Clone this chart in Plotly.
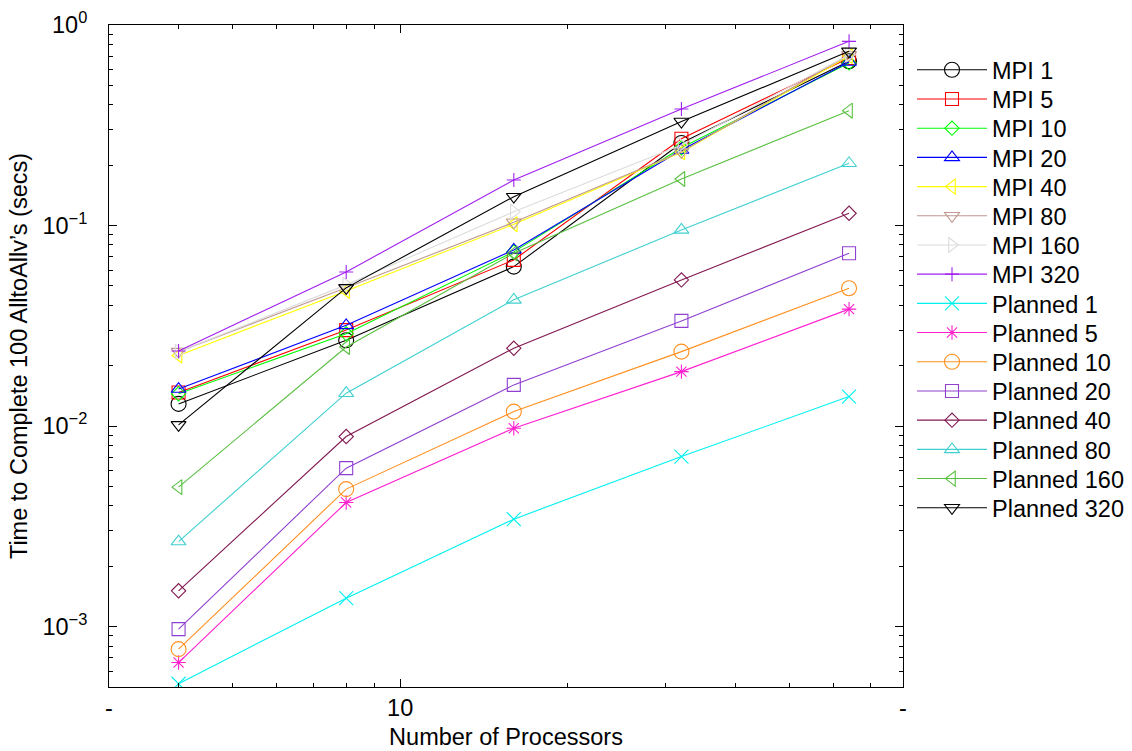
import plotly.graph_objects as go

procs = [4, 8, 16, 32, 64]

series_names = ["MPI 1", "MPI 5", "MPI 10", "MPI 20", "MPI 40", "MPI 80", "MPI 160", "MPI 320",
                "Planned 1", "Planned 5", "Planned 10", "Planned 20", "Planned 40", "Planned 80",
                "Planned 160", "Planned 320"]

mpi_1 = [0.0129, 0.0268, 0.0624, 0.258, 0.660]
mpi_5 = [0.0147, 0.0301, 0.0674, 0.271, 0.685]
mpi_10 = [0.0145, 0.0289, 0.0739, 0.244, 0.647]
mpi_20 = [0.0153, 0.0318, 0.0756, 0.238, 0.654]
mpi_40 = [0.0225, 0.0472, 0.1015, 0.232, 0.700]
mpi_80 = [0.0235, 0.0489, 0.1038, 0.233, 0.710]
mpi_160 = [0.0235, 0.0506, 0.1173, 0.252, 0.710]
mpi_320 = [0.0237, 0.0587, 0.1688, 0.381, 0.829]
planned_1 = [0.000519, 0.001387, 0.003435, 0.00705, 0.01403]
planned_5 = [0.000662, 0.00416, 0.00976, 0.01869, 0.0383]
planned_10 = [0.000772, 0.00485, 0.01181, 0.02351, 0.0487]
planned_20 = [0.000972, 0.00617, 0.01605, 0.03345, 0.0728]
planned_40 = [0.001509, 0.00887, 0.02445, 0.05356, 0.1151]
planned_80 = [0.002656, 0.01459, 0.0426, 0.0951, 0.2044]
planned_160 = [0.00496, 0.0248, 0.0728, 0.1707, 0.3739]
planned_320 = [0.01014, 0.0489, 0.1393, 0.330, 0.739]

series_values = [mpi_1, mpi_5, mpi_10, mpi_20, mpi_40, mpi_80, mpi_160, mpi_320,
                 planned_1, planned_5, planned_10, planned_20, planned_40, planned_80,
                 planned_160, planned_320]

colors = ["#000000", "#ff0000", "#00ff00", "#0000ff", "#ffff00", "#c09890", "#dcdcdc", "#a020f0",
          "#00f0f0", "#ff20d0", "#ff9020", "#9040d0", "#801850", "#40d0d0", "#58c040", "#000000"]
symbols = ["circle-open", "square-open", "diamond-open", "triangle-up-open", "triangle-left-open",
           "triangle-down-open", "triangle-right-open", "cross-thin-open",
           "x-thin-open", "asterisk-open", "circle-open", "square-open", "diamond-open",
           "triangle-up-open", "triangle-left-open", "triangle-down-open"]
size_by_symbol = {"circle-open": 15, "square-open": 13, "diamond-open": 11, "triangle-up-open": 13,
                  "triangle-left-open": 13, "triangle-down-open": 13, "triangle-right-open": 13,
                  "cross-thin-open": 10, "x-thin-open": 14, "asterisk-open": 12}

font_family = "Liberation Sans, Arial, sans-serif"
FS = 23.5
W, H = 1132, 751

legend_left_px = 912
legend_first_y, legend_step = 70, 29.2

fig = go.Figure()
legend_layouts = {}
for i, (name, vals, col, sym) in enumerate(zip(series_names, series_values, colors, symbols)):
    lg = "legend" if i == 0 else f"legend{i + 1}"
    fig.add_trace(go.Scatter(
        x=procs, y=vals, name=name, mode="lines+markers",
        line=dict(color=col, width=1.1),
        marker=dict(symbol=sym, size=size_by_symbol[sym], color=col,
                    line=dict(color=col, width=1.1)),
        legend=lg,
    ))
    yc = legend_first_y + legend_step * i
    legend_layouts[lg] = dict(
        xref="container", yref="container",
        x=legend_left_px / W, y=1 - yc / H, xanchor="left", yanchor="middle",
        font=dict(size=FS, color="black", family=font_family), itemwidth=70,
        bgcolor="rgba(0,0,0,0)",
    )

x_tickvals = [3, 10, 80]
x_ticktext = ["-", "10", "-"]
x_minor = [4, 5, 6, 7, 8, 9, 20, 30, 40, 50, 60, 70]
y_tickvals = [1e-3, 1e-2, 1e-1, 1]
y_ticktext = ["10<sup>\u22123</sup>", "10<sup>\u22122</sup>", "10<sup>\u22121</sup>", "10<sup>0</sup>"]
y_minor = [m * 10 ** e for e in (-4, -3, -2, -1) for m in range(2, 10) if 5e-4 <= m * 10 ** e < 1]

fig.update_layout(
    width=W, height=H,
    margin=dict(l=109, r=229, t=25, b=64),
    plot_bgcolor="white", paper_bgcolor="white",
    font=dict(family=font_family, size=FS, color="black"),
    showlegend=True,
    xaxis=dict(
        type="log", range=[0.47712, 1.90309], automargin=False,
        tickmode="array", tickvals=x_tickvals, ticktext=x_ticktext,
        ticks="inside", ticklen=8, tickwidth=1, tickcolor="black",
        minor=dict(tickmode="array", tickvals=x_minor, ticks="inside", ticklen=4,
                   tickcolor="black", showgrid=False),
        showline=True, linecolor="black", linewidth=1, mirror="allticks",
        showgrid=False, zeroline=False,
        tickfont=dict(size=FS),
        title=dict(text="Number of Processors", font=dict(size=FS), standoff=8),
    ),
    yaxis=dict(
        type="log", range=[-3.30103, 0], automargin=False,
        tickmode="array", tickvals=y_tickvals, ticktext=y_ticktext,
        ticks="inside", ticklen=8, tickwidth=1, tickcolor="black",
        minor=dict(tickmode="array", tickvals=y_minor, ticks="inside", ticklen=4,
                   tickcolor="black", showgrid=False),
        showline=True, linecolor="black", linewidth=1, mirror="allticks",
        showgrid=False, zeroline=False,
        tickfont=dict(size=FS), ticklabelstandoff=16,
        title=dict(text="Time to Complete 100 AlltoAllv\u2019s (secs)", font=dict(size=FS), standoff=8),
    ),
    **legend_layouts,
)

fig.write_html("out.html")
